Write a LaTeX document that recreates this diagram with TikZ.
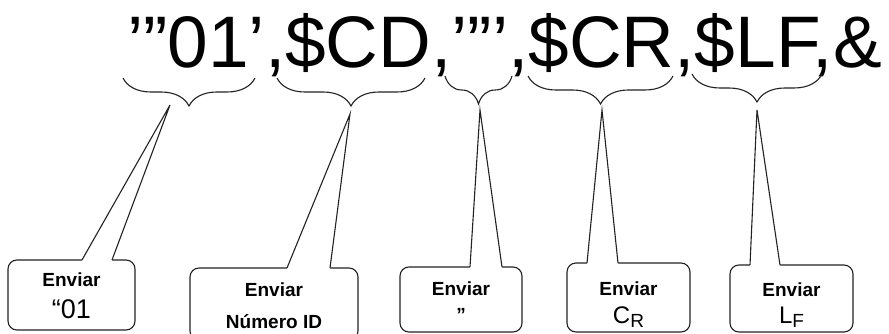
\documentclass[tikz,border=0pt]{standalone}
\usepackage{fontspec}
\setmainfont{Liberation Sans}
\definecolor{ink}{HTML}{222222}
\usetikzlibrary{calc, decorations.pathreplacing}
\tikzset{
  callbox/.style={
    draw=ink, rounded corners=9pt, line width=1.1pt,
    inner sep=0pt, outer sep=0pt, align=center, text=black,
    font=\fontsize{19}{32}\selectfont\bfseries
  },
  tailline/.style={draw=ink, line width=1.1pt, line join=miter},
  curly/.style={
    draw=ink, line width=1.1pt,
    decorate, decoration={brace, mirror, amplitude=28pt}
  },
  code/.style={font=\fontsize{73}{73}\selectfont, anchor=base west, inner sep=0pt},
}
\newcommand\subbig[2]{{\mdseries\fontsize{24}{24}\selectfont #1}{\mdseries\fontsize{19}{19}\selectfont\raisebox{-4pt}{#2}}}

\begin{document}
\begin{tikzpicture}[x=1pt, y=-1pt]
  \useasboundingbox (0,0) rectangle (889,334);
  \clip (0,0) rectangle (889,334);

  % Command line
  \node[code] (cmd) at (127,68) {’”01’,\$CD,’”’,\$CR,\$LF,\&};

  % Braces
  \draw[curly] (123,78) -- (255,78);
  \draw[curly] (277,78) -- (425,78);
  \draw[curly] (445,76) -- (512,76);
  \draw[curly] (528,76) -- (673,76);
  \draw[curly] (692,74) -- (822,74);

  % Pointer tips
  \coordinate (t1) at (170,105);
  \coordinate (t2) at (350,114);
  \coordinate (t3) at (480,110);
  \coordinate (t4) at (602,110);
  \coordinate (t5) at (757,110);

  % Boxes
  \node[callbox, text height=48pt, minimum width=127pt, minimum height=70pt] (b1) at (71.5,295)
    {Enviar\\{\fontsize{27}{27}\selectfont\mdseries “01}};
  \node[callbox, text height=50pt, minimum width=168pt, minimum height=72pt] (b2) at (274,304)
    {Enviar\\Número ID};
  \node[callbox, text height=43pt, minimum width=122pt, minimum height=65pt] (b3) at (461,299.5)
    {Enviar\\[-6pt]”};
  \node[callbox, text height=55pt, minimum width=123pt, minimum height=69pt] (b4) at (628.5,297.5)
    {Enviar\\[-4pt]\subbig{C}{R}};
  \node[callbox, text height=53pt, minimum width=123pt, minimum height=67pt] (b5) at (791.5,298.5)
    {Enviar\\[-5pt]\subbig{L}{F}};

  % Tails
  \fill[white] ($(b1.north west)+(74,1.5)$) -- ($(b1.north west)+(74,0)$) -- (t1)
    -- ($(b1.north west)+(104,0)$) -- ($(b1.north west)+(104,1.5)$) -- cycle;
  \draw[tailline] ($(b1.north west)+(74,0)$) -- (t1) -- ($(b1.north west)+(104,0)$);
  \fill[white] ($(b2.north west)+(97,1.5)$) -- ($(b2.north west)+(97,0)$) -- (t2)
    -- ($(b2.north west)+(140,0)$) -- ($(b2.north west)+(140,1.5)$) -- cycle;
  \draw[tailline] ($(b2.north west)+(97,0)$) -- (t2) -- ($(b2.north west)+(140,0)$);
  \fill[white] ($(b3.north west)+(70,1.5)$) -- ($(b3.north west)+(70,0)$) -- (t3)
    -- ($(b3.north west)+(102,0)$) -- ($(b3.north west)+(102,1.5)$) -- cycle;
  \draw[tailline] ($(b3.north west)+(70,0)$) -- (t3) -- ($(b3.north west)+(102,0)$);
  \fill[white] ($(b4.north west)+(20,1.5)$) -- ($(b4.north west)+(20,0)$) -- (t4)
    -- ($(b4.north west)+(51,0)$) -- ($(b4.north west)+(51,1.5)$) -- cycle;
  \draw[tailline] ($(b4.north west)+(20,0)$) -- (t4) -- ($(b4.north west)+(51,0)$);
  \fill[white] ($(b5.north west)+(20,1.5)$) -- ($(b5.north west)+(20,0)$) -- (t5)
    -- ($(b5.north west)+(50,0)$) -- ($(b5.north west)+(50,1.5)$) -- cycle;
  \draw[tailline] ($(b5.north west)+(20,0)$) -- (t5) -- ($(b5.north west)+(50,0)$);
\end{tikzpicture}
\end{document}
